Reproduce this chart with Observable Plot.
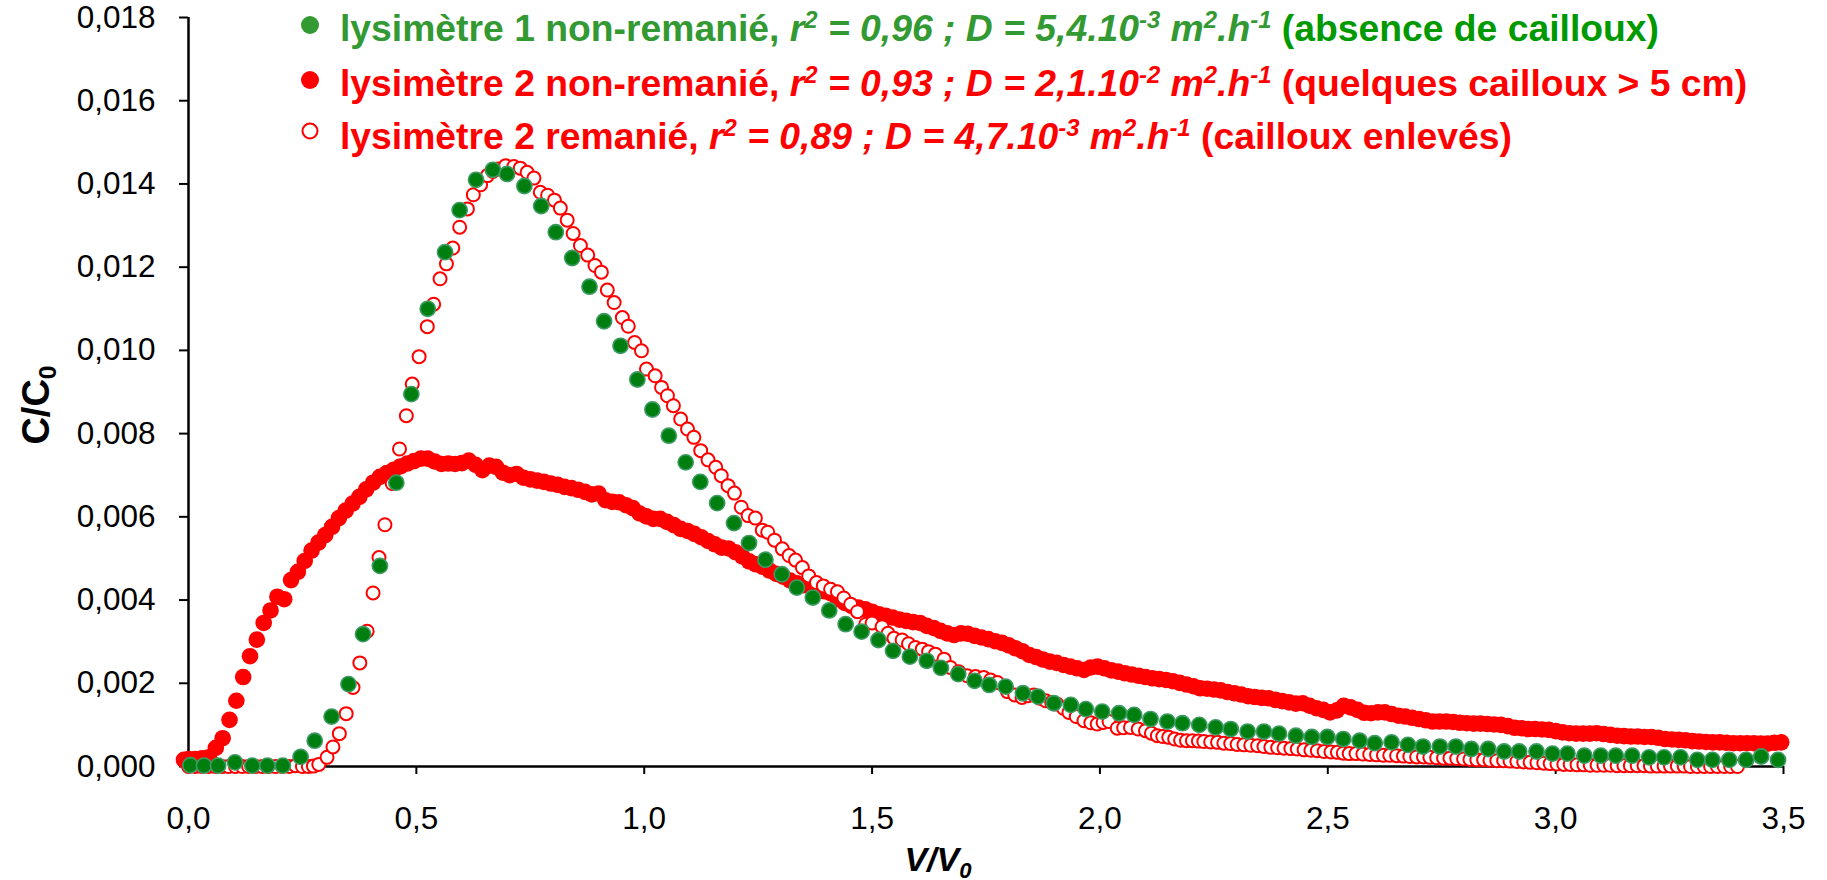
<!DOCTYPE html>
<html>
<head>
<meta charset="utf-8">
<script src="https://cdn.jsdelivr.net/npm/d3@7"></script>
<script src="https://cdn.jsdelivr.net/npm/@observablehq/plot@0.6"></script>
<style>
  html, body { margin: 0; padding: 0; background: #fff; }
  #wrap { position: relative; width: 1827px; height: 880px; font-family: "Liberation Sans", Arial, sans-serif; }
  #wrap svg.plot { position: absolute; left: 0; top: 0; }
  .leg { position: absolute; left: 340px; font-weight: bold; font-size: 37.3px; line-height: 37px; white-space: nowrap; }
  .leg sup { font-size: 0.64em; line-height: 0; vertical-align: 0.55em; }
  .legdot { position: absolute; left: 298px; width: 24px; height: 24px; }
  .ytitle { position: absolute; left: 36px; top: 405px; transform: translate(-50%, -50%) rotate(-90deg); font-weight: bold; font-size: 38px; line-height: 38px; white-space: nowrap; }
  .xtitle { position: absolute; left: 938px; top: 842px; transform: translateX(-50%); font-weight: bold; font-style: italic; font-size: 34px; line-height: 34px; white-space: nowrap; }
  .ytitle sub, .xtitle sub { font-size: 0.65em; line-height: 0; vertical-align: -0.3em; }
</style>
</head>
<body>
<div id="wrap"></div>
<script>
// Tick values
const xTicks = [0, 0.5, 1.0, 1.5, 2.0, 2.5, 3.0, 3.5];
const yTicks = [0, 0.002, 0.004, 0.006, 0.008, 0.010, 0.012, 0.014, 0.016, 0.018];

// Lysimètre 1 non-remanié  [V/V0, C/C0]
const lys1Intact = [[0.004,0.00003],[0.034,0.00002],[0.065,0.00002],[0.102,0.0001],[0.140,0.00002],[0.173,0.00002],[0.207,0.00002],[0.246,0.00023],[0.277,0.00062],[0.314,0.0012],[0.351,0.00198],[0.383,0.00318],[0.420,0.00482],[0.456,0.00682],[0.489,0.00895],[0.525,0.0110],[0.563,0.01236],[0.595,0.01337],[0.631,0.0141],[0.668,0.01434],[0.699,0.01424],[0.737,0.01395],[0.774,0.01347],[0.806,0.01284],[0.842,0.01222],[0.880,0.01153],[0.912,0.0107],[0.948,0.01011],[0.985,0.0093],[1.018,0.00858],[1.054,0.00795],[1.091,0.00731],[1.123,0.00684],[1.160,0.00633],[1.197,0.00585],[1.230,0.00537],[1.266,0.00497],[1.302,0.00462],[1.335,0.0043],[1.370,0.00406],[1.406,0.00375],[1.442,0.00342],[1.477,0.00324],[1.514,0.00304],[1.546,0.00278],[1.583,0.00264],[1.620,0.00254],[1.651,0.00237],[1.689,0.00222],[1.725,0.00206],[1.757,0.00196],[1.793,0.00192],[1.831,0.00176],[1.864,0.00168],[1.899,0.00152],[1.936,0.00148],[1.969,0.00138],[2.005,0.00132],[2.042,0.00128],[2.075,0.00124],[2.111,0.00114],[2.148,0.00108],[2.181,0.00104],[2.218,0.001],[2.254,0.00094],[2.287,0.0009],[2.324,0.00084],[2.360,0.00084],[2.393,0.00079],[2.430,0.00074],[2.465,0.00071],[2.499,0.00071],[2.534,0.00066],[2.570,0.00062],[2.603,0.00056],[2.640,0.00058],[2.676,0.00052],[2.709,0.00048],[2.746,0.00048],[2.781,0.00048],[2.815,0.00042],[2.852,0.00042],[2.887,0.00036],[2.920,0.00036],[2.958,0.00036],[2.993,0.00031],[3.026,0.00031],[3.063,0.00026],[3.099,0.00026],[3.132,0.00026],[3.168,0.00026],[3.205,0.00022],[3.238,0.00022],[3.274,0.00022],[3.311,0.00016],[3.344,0.00016],[3.381,0.00016],[3.418,0.00016],[3.451,0.00024],[3.488,0.00016]];

// Lysimètre 2 non-remanié  [V/V0, C/C0]
const lys2Intact = [[-0.010,0.00016],[0.000,0.00018],[0.015,0.00018],[0.030,0.00020],[0.045,0.00022],[0.060,0.00045],[0.075,0.00068],[0.090,0.00112],[0.105,0.00158],[0.120,0.00215],[0.135,0.00265],[0.150,0.00305],[0.165,0.00345],[0.180,0.00375],[0.195,0.00408],[0.210,0.00402],[0.225,0.00448],[0.240,0.00468],[0.255,0.00494],[0.270,0.00519],[0.285,0.00538],[0.300,0.00556],[0.315,0.00576],[0.330,0.00597],[0.345,0.00615],[0.360,0.00632],[0.375,0.00648],[0.390,0.00666],[0.405,0.00682],[0.420,0.00696],[0.435,0.00705],[0.450,0.00713],[0.465,0.00721],[0.480,0.00728],[0.495,0.00734],[0.510,0.00740],[0.525,0.00740],[0.540,0.00733],[0.555,0.00727],[0.570,0.00728],[0.585,0.00727],[0.600,0.00729],[0.615,0.00735],[0.630,0.00725],[0.645,0.00712],[0.660,0.00723],[0.675,0.00720],[0.690,0.00706],[0.705,0.00700],[0.720,0.00703],[0.735,0.00694],[0.750,0.00690],[0.765,0.00687],[0.780,0.00684],[0.795,0.00680],[0.810,0.00677],[0.825,0.00672],[0.840,0.00669],[0.855,0.00665],[0.870,0.00660],[0.885,0.00654],[0.900,0.00656],[0.915,0.00640],[0.930,0.00636],[0.945,0.00635],[0.960,0.00628],[0.975,0.00621],[0.990,0.00608],[1.005,0.00601],[1.020,0.00595],[1.035,0.00595],[1.050,0.00588],[1.065,0.00580],[1.080,0.00571],[1.095,0.00566],[1.110,0.00559],[1.125,0.00551],[1.140,0.00542],[1.155,0.00534],[1.170,0.00526],[1.185,0.00524],[1.200,0.00515],[1.215,0.00505],[1.230,0.00493],[1.245,0.00486],[1.260,0.00480],[1.275,0.00471],[1.290,0.00463],[1.305,0.00456],[1.320,0.00447],[1.335,0.00440],[1.350,0.00436],[1.365,0.00432],[1.380,0.00427],[1.395,0.00421],[1.410,0.00416],[1.425,0.00402],[1.440,0.00393],[1.455,0.00386],[1.470,0.00382],[1.485,0.00378],[1.500,0.00372],[1.515,0.00366],[1.530,0.00362],[1.545,0.00358],[1.560,0.00353],[1.575,0.00350],[1.590,0.00347],[1.605,0.00345],[1.620,0.00338],[1.635,0.00333],[1.650,0.00326],[1.665,0.00320],[1.680,0.00316],[1.695,0.00320],[1.710,0.00319],[1.725,0.00314],[1.740,0.00310],[1.755,0.00306],[1.770,0.00301],[1.785,0.00297],[1.800,0.00291],[1.815,0.00284],[1.830,0.00277],[1.845,0.00268],[1.860,0.00263],[1.875,0.00257],[1.890,0.00252],[1.905,0.00249],[1.920,0.00244],[1.935,0.00240],[1.950,0.00236],[1.965,0.00232],[1.980,0.00238],[1.995,0.00240],[2.010,0.00236],[2.025,0.00231],[2.040,0.00228],[2.055,0.00224],[2.070,0.00221],[2.085,0.00218],[2.100,0.00215],[2.115,0.00212],[2.130,0.00210],[2.145,0.00208],[2.160,0.00205],[2.175,0.00201],[2.190,0.00197],[2.205,0.00193],[2.220,0.00188],[2.235,0.00187],[2.250,0.00185],[2.265,0.00183],[2.280,0.00179],[2.295,0.00176],[2.310,0.00173],[2.325,0.00169],[2.340,0.00167],[2.355,0.00165],[2.370,0.00164],[2.385,0.00160],[2.400,0.00157],[2.415,0.00154],[2.430,0.00151],[2.445,0.00152],[2.460,0.00146],[2.475,0.00140],[2.490,0.00136],[2.505,0.00130],[2.520,0.00135],[2.535,0.00146],[2.550,0.00142],[2.565,0.00136],[2.580,0.00129],[2.595,0.00128],[2.610,0.00130],[2.625,0.00130],[2.640,0.00126],[2.655,0.00122],[2.670,0.00120],[2.685,0.00117],[2.700,0.00114],[2.715,0.00111],[2.730,0.00108],[2.745,0.00108],[2.760,0.00108],[2.775,0.00107],[2.790,0.00105],[2.805,0.00104],[2.820,0.00103],[2.835,0.00103],[2.850,0.00102],[2.865,0.00101],[2.880,0.00100],[2.895,0.00097],[2.910,0.00093],[2.925,0.00092],[2.940,0.00090],[2.955,0.00090],[2.970,0.00089],[2.985,0.00088],[3.000,0.00085],[3.015,0.00082],[3.030,0.00080],[3.045,0.00079],[3.060,0.00079],[3.075,0.00079],[3.090,0.00080],[3.105,0.00078],[3.120,0.00076],[3.135,0.00074],[3.150,0.00073],[3.165,0.00072],[3.180,0.00072],[3.195,0.00071],[3.210,0.00071],[3.225,0.00069],[3.240,0.00066],[3.255,0.00065],[3.270,0.00064],[3.285,0.00063],[3.300,0.00061],[3.315,0.00060],[3.330,0.00059],[3.345,0.00058],[3.360,0.00058],[3.375,0.00057],[3.390,0.00056],[3.405,0.00056],[3.420,0.00056],[3.435,0.00056],[3.450,0.00055],[3.465,0.00055],[3.480,0.00057],[3.495,0.00058]];

// Lysimètre 2 remanié  [V/V0, C/C0]
const lys2Repacked = [[0.000,0],[0.015,0],[0.029,0],[0.044,0],[0.059,0],[0.074,0],[0.088,0],[0.103,0],[0.118,0],[0.132,0],[0.147,0],[0.162,0],[0.176,0],[0.191,0],[0.206,0],[0.221,0],[0.235,0.00002],[0.250,0],[0.263,0],[0.274,0.00001],[0.286,0.00005],[0.304,0.00022],[0.317,0.00047],[0.331,0.00079],[0.346,0.00127],[0.361,0.0019],[0.376,0.00249],[0.392,0.00325],[0.405,0.00417],[0.418,0.00502],[0.431,0.00581],[0.447,0.0068],[0.463,0.00763],[0.478,0.00843],[0.491,0.00919],[0.506,0.00985],[0.524,0.01057],[0.538,0.01111],[0.552,0.01172],[0.566,0.01208],[0.580,0.01246],[0.595,0.01296],[0.612,0.0134],[0.625,0.01374],[0.641,0.01398],[0.656,0.0142],[0.668,0.0143],[0.679,0.01436],[0.696,0.01444],[0.714,0.01442],[0.728,0.01438],[0.743,0.01428],[0.758,0.01414],[0.772,0.0138],[0.788,0.01373],[0.803,0.01361],[0.816,0.01342],[0.831,0.01313],[0.844,0.01281],[0.860,0.01252],[0.876,0.01229],[0.892,0.01204],[0.906,0.01188],[0.919,0.01145],[0.934,0.01115],[0.952,0.01079],[0.965,0.01058],[0.979,0.01019],[0.994,0.00999],[1.005,0.00955],[1.024,0.00939],[1.038,0.00911],[1.051,0.00891],[1.064,0.00867],[1.080,0.00835],[1.095,0.00811],[1.109,0.00791],[1.124,0.00759],[1.140,0.00737],[1.157,0.00719],[1.169,0.00699],[1.184,0.00675],[1.198,0.00657],[1.213,0.00623],[1.228,0.00603],[1.244,0.00597],[1.259,0.00568],[1.271,0.00563],[1.286,0.00544],[1.303,0.00523],[1.318,0.00507],[1.332,0.00496],[1.347,0.00478],[1.361,0.00458],[1.378,0.00442],[1.393,0.00434],[1.409,0.00426],[1.424,0.0042],[1.438,0.00405],[1.453,0.0039],[1.468,0.00372],[1.486,0.00342],[1.500,0.00345],[1.522,0.00336],[1.535,0.0032],[1.548,0.00308],[1.566,0.00304],[1.580,0.00295],[1.595,0.00286],[1.610,0.00282],[1.624,0.00276],[1.639,0.0027],[1.658,0.00258],[1.672,0.00238],[1.690,0.00228],[1.709,0.00218],[1.727,0.00216],[1.745,0.00214],[1.760,0.00208],[1.775,0.00202],[1.797,0.0018],[1.813,0.00172],[1.829,0.00166],[1.842,0.0017],[1.855,0.00172],[1.868,0.00164],[1.881,0.00158],[1.894,0.00154],[1.906,0.0015],[1.920,0.0014],[1.932,0.0013],[1.948,0.0012],[1.965,0.0011],[1.980,0.00105],[1.994,0.00102],[2.007,0.00106],[2.020,0.00108],[2.038,0.00092],[2.052,0.00093],[2.067,0.00094],[2.084,0.0009],[2.100,0.00086],[2.113,0.0008],[2.126,0.00074],[2.138,0.00072],[2.151,0.0007],[2.164,0.00066],[2.177,0.00063],[2.190,0.00062],[2.203,0.00062],[2.216,0.00061],[2.228,0.0006],[2.243,0.00059],[2.258,0.00058],[2.272,0.00056],[2.287,0.00055],[2.301,0.00053],[2.316,0.00052],[2.331,0.00051],[2.346,0.0005],[2.360,0.00048],[2.375,0.00046],[2.390,0.00045],[2.404,0.00044],[2.419,0.00043],[2.433,0.00042],[2.448,0.0004],[2.463,0.00039],[2.477,0.00038],[2.492,0.00036],[2.507,0.00035],[2.521,0.00034],[2.534,0.00032],[2.547,0.00031],[2.562,0.00031],[2.577,0.0003],[2.592,0.00029],[2.607,0.00028],[2.622,0.00027],[2.636,0.00027],[2.651,0.00026],[2.666,0.00025],[2.680,0.00024],[2.695,0.00023],[2.710,0.00023],[2.724,0.00022],[2.739,0.00021],[2.754,0.0002],[2.768,0.0002],[2.783,0.00019],[2.798,0.00018],[2.812,0.00017],[2.827,0.00016],[2.842,0.00016],[2.856,0.00015],[2.871,0.00014],[2.886,0.00014],[2.900,0.00013],[2.915,0.00012],[2.930,0.00011],[2.944,0.0001],[2.959,0.00009],[2.974,0.00008],[2.988,0.00007],[3.003,0.00006],[3.018,0.00005],[3.032,0.00005],[3.047,0.00004],[3.062,0.00004],[3.076,0.00003],[3.091,0.00003],[3.106,0.00003],[3.120,0.00003],[3.135,0.00002],[3.150,0.00002],[3.164,0.00002],[3.179,0.00002],[3.194,0.00002],[3.208,0.00001],[3.223,0.00001],[3.238,0.00001],[3.252,0.00001],[3.267,0.00001],[3.282,0.00001],[3.296,0],[3.311,0],[3.326,0],[3.340,0],[3.355,0],[3.370,0],[3.384,0],[3.399,0]];

const fmtX = d => d.toFixed(1).replace(".", ",");
const fmtY = d => d.toFixed(3).replace(".", ",");

const chart = Plot.plot({
  width: 1827,
  height: 880,
  marginLeft: 188,
  marginRight: 44,
  marginTop: 17,
  marginBottom: 114,
  x: {domain: [0, 3.5]},
  y: {domain: [0, 0.018]},
  style: {fontFamily: '"Liberation Sans", Arial, sans-serif', fontSize: "31.5px", color: "#000", background: "transparent", overflow: "visible"},
  marks: [
    Plot.ruleY([0], {stroke: "#000", strokeWidth: 2.5}),
    Plot.ruleX([0], {stroke: "#000", strokeWidth: 2.5}),
    Plot.axisX({ticks: xTicks, tickFormat: fmtX, tickSize: 8, tickPadding: 32, fontSize: 31.5, strokeWidth: 2, strokeOpacity: 1, label: null}),
    Plot.axisY({ticks: yTicks, tickFormat: fmtY, tickSize: 9, tickPadding: 24, fontSize: 31.5, strokeWidth: 2, strokeOpacity: 1, label: null}),
    Plot.dot(lys2Intact, {x: d => d[0], y: d => d[1], r: 8.3, fill: "#ff0000", stroke: "none"}),
    Plot.dot(lys2Repacked, {x: d => d[0], y: d => d[1], r: 6.5, fill: "#ffffff", stroke: "#ff0000", strokeWidth: 2}),
    Plot.dot(lys1Intact, {x: d => d[0], y: d => d[1], r: 7.6, fill: "#007f10", stroke: "#3c9a62", strokeWidth: 1.6})
  ]
});

const wrap = document.getElementById("wrap");
wrap.appendChild(chart);

wrap.insertAdjacentHTML("beforeend", `
<svg class="legdot" style="top:13px"><circle cx="12" cy="12" r="9" fill="#339933"/></svg>
<svg class="legdot" style="top:68px"><circle cx="12" cy="12" r="9" fill="#ff0000"/></svg>
<svg class="legdot" style="top:119px"><circle cx="12" cy="12" r="7.5" fill="#fff" stroke="#ff0000" stroke-width="2"/></svg>
<div class="leg" style="top:10px"><span style="color:#339933">lysimètre 1 non-remanié, <i>r<sup>2</sup> = 0,96 ; D = 5,4.10<sup>-3</sup> m<sup>2</sup>.h<sup>-1</sup></i></span> <span style="color:#009900">(absence de cailloux)</span></div>
<div class="leg" style="top:65px;color:#ff0000">lysimètre 2 non-remanié, <i>r<sup>2</sup> = 0,93 ; D = 2,1.10<sup>-2</sup> m<sup>2</sup>.h<sup>-1</sup></i> (quelques cailloux &gt; 5 cm)</div>
<div class="leg" style="top:118px;color:#ff0000">lysimètre 2 remanié, <i>r<sup>2</sup> = 0,89 ; D = 4,7.10<sup>-3</sup> m<sup>2</sup>.h<sup>-1</sup></i> (cailloux enlevés)</div>
<div class="ytitle">C/C<sub>0</sub></div>
<div class="xtitle">V/V<sub>0</sub></div>
`);
</script>
</body>
</html>
